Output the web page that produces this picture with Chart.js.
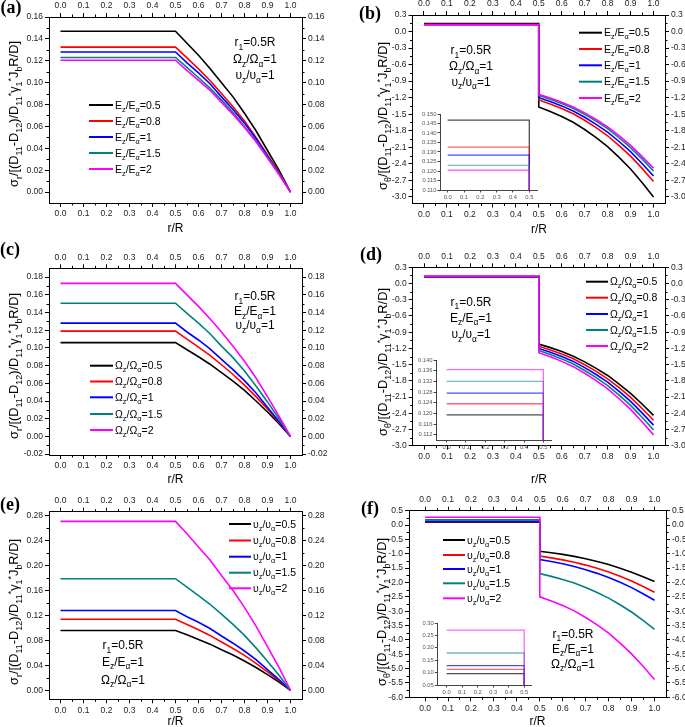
<!DOCTYPE html>
<html>
<head>
<meta charset="UTF-8">
<title>Stress distributions</title>
<script src="https://cdn.jsdelivr.net/npm/chart.js@4.4.0/dist/chart.umd.min.js"></script>
<style>
  html, body { margin: 0; padding: 0; background: #fff; overflow: hidden; }
  body { width: 685px; height: 727px; position: relative; }
  canvas { position: absolute; }
</style>
</head>
<body>
<canvas id="pa"></canvas>
<canvas id="pb"></canvas>
<canvas id="pc"></canvas>
<canvas id="pd"></canvas>
<canvas id="pe"></canvas>
<canvas id="pf"></canvas>
<canvas id="ib"></canvas>
<canvas id="id"></canvas>
<canvas id="if"></canvas>
<script>
// r/R sample points: inner plateau and outer ring
const rInner = [0.0, 0.5];
const rOuter = [0.5, 0.55, 0.6, 0.65, 0.7, 0.75, 0.8, 0.85, 0.9, 0.95, 1.0];

// tick labels
const xTicks = [0.0, 0.1, 0.2, 0.3, 0.4, 0.5, 0.6, 0.7, 0.8, 0.9, 1.0];
const insetXTicks = [0.0, 0.1, 0.2, 0.3, 0.4, 0.5];
const yTicksA = [0.00, 0.02, 0.04, 0.06, 0.08, 0.10, 0.12, 0.14, 0.16];
const yTicksB = [-3.0, -2.7, -2.4, -2.1, -1.8, -1.5, -1.2, -0.9, -0.6, -0.3, 0.0, 0.3];
const yTicksC = [-0.02, 0.00, 0.02, 0.04, 0.06, 0.08, 0.10, 0.12, 0.14, 0.16, 0.18];
const yTicksD = [-3.0, -2.7, -2.4, -2.1, -1.8, -1.5, -1.2, -0.9, -0.6, -0.3, 0.0, 0.3];
const yTicksE = [0.00, 0.04, 0.08, 0.12, 0.16, 0.20, 0.24, 0.28];
const yTicksF = [-6.0, -5.5, -5.0, -4.5, -4.0, -3.5, -3.0, -2.5, -2.0, -1.5, -1.0, -0.5, 0.0, 0.5];
const insetYTicksB = [0.110, 0.115, 0.120, 0.125, 0.130, 0.135, 0.140, 0.145, 0.150];
const insetYTicksD = [0.112, 0.116, 0.120, 0.124, 0.128, 0.132, 0.136, 0.140];
const insetYTicksF = [0.05, 0.10, 0.15, 0.20, 0.25, 0.30];

// series names
const labelsE = ['E_{z}/E_{α}=0.5', 'E_{z}/E_{α}=0.8', 'E_{z}/E_{α}=1', 'E_{z}/E_{α}=1.5', 'E_{z}/E_{α}=2'];
const labelsOmega = ['Ω_{z}/Ω_{α}=0.5', 'Ω_{z}/Ω_{α}=0.8', 'Ω_{z}/Ω_{α}=1', 'Ω_{z}/Ω_{α}=1.5', 'Ω_{z}/Ω_{α}=2'];
const labelsNu = ['υ_{z}/υ_{α}=0.5', 'υ_{z}/υ_{α}=0.8', 'υ_{z}/υ_{α}=1', 'υ_{z}/υ_{α}=1.5', 'υ_{z}/υ_{α}=2'];

// (a) sigma_r, varying E
const plateauA = [0.147, 0.1325, 0.128, 0.123, 0.1205];
const outerA = [
  [0.147, 0.136, 0.125, 0.113, 0.100, 0.087, 0.072, 0.056, 0.038, 0.020, 0],
  [0.1325, 0.1226, 0.1126, 0.102, 0.090, 0.078, 0.065, 0.050, 0.034, 0.018, 0],
  [0.128, 0.118, 0.109, 0.099, 0.087, 0.0755, 0.063, 0.049, 0.033, 0.017, 0],
  [0.123, 0.114, 0.1045, 0.095, 0.084, 0.0726, 0.060, 0.047, 0.032, 0.0166, 0],
  [0.1205, 0.111, 0.102, 0.093, 0.082, 0.071, 0.059, 0.046, 0.031, 0.016, 0]
];
// (b) sigma_theta, varying E
const plateauB = [0.1468, 0.1326, 0.1284, 0.123, 0.1204];
const outerB = [
  [-1.37, -1.452, -1.541, -1.647, -1.778, -1.924, -2.087, -2.283, -2.495, -2.739, -3.0],
  [-1.24, -1.314, -1.395, -1.492, -1.61, -1.743, -1.891, -2.069, -2.261, -2.483, -2.72],
  [-1.2, -1.271, -1.349, -1.441, -1.555, -1.683, -1.825, -1.995, -2.18, -2.393, -2.62],
  [-1.16, -1.229, -1.304, -1.393, -1.503, -1.626, -1.763, -1.927, -2.105, -2.311, -2.53],
  [-1.14, -1.207, -1.281, -1.368, -1.475, -1.596, -1.73, -1.89, -2.065, -2.266, -2.48]
];
// (c) sigma_r, varying Omega
const plateauC = [0.106, 0.119, 0.128, 0.1505, 0.173];
const outerC = [
  [0.106, 0.098, 0.090, 0.0816, 0.072, 0.0625, 0.052, 0.040, 0.0276, 0.0143, 0],
  [0.119, 0.110, 0.101, 0.0916, 0.081, 0.070, 0.058, 0.045, 0.031, 0.016, 0],
  [0.128, 0.118, 0.109, 0.099, 0.087, 0.0755, 0.063, 0.049, 0.033, 0.017, 0],
  [0.1505, 0.139, 0.128, 0.116, 0.102, 0.089, 0.074, 0.057, 0.039, 0.020, 0],
  [0.173, 0.160, 0.147, 0.133, 0.118, 0.102, 0.085, 0.066, 0.045, 0.023, 0]
];
// (d) sigma_theta, varying Omega
const plateauD = [0.1194, 0.1236, 0.1276, 0.132, 0.1364];
const outerD = [
  [-1.12, -1.186, -1.259, -1.344, -1.45, -1.569, -1.701, -1.859, -2.031, -2.229, -2.44],
  [-1.16, -1.229, -1.304, -1.393, -1.503, -1.626, -1.763, -1.927, -2.105, -2.311, -2.53],
  [-1.2, -1.271, -1.349, -1.441, -1.555, -1.683, -1.825, -1.995, -2.18, -2.393, -2.62],
  [-1.24, -1.314, -1.394, -1.49, -1.608, -1.74, -1.887, -2.063, -2.254, -2.475, -2.71],
  [-1.28, -1.356, -1.44, -1.538, -1.66, -1.797, -1.949, -2.131, -2.329, -2.557, -2.8]
];
// (e) sigma_r, varying nu
const plateauE = [0.096, 0.114, 0.128, 0.179, 0.271];
const outerE = [
  [0.096, 0.089, 0.0816, 0.074, 0.065, 0.0566, 0.047, 0.0365, 0.025, 0.013, 0],
  [0.114, 0.1055, 0.097, 0.088, 0.0775, 0.067, 0.056, 0.043, 0.0296, 0.0154, 0],
  [0.128, 0.118, 0.109, 0.099, 0.087, 0.0755, 0.063, 0.049, 0.033, 0.017, 0],
  [0.179, 0.1655, 0.152, 0.138, 0.122, 0.1056, 0.088, 0.068, 0.0465, 0.024, 0],
  [0.271, 0.251, 0.230, 0.209, 0.184, 0.160, 0.133, 0.103, 0.070, 0.0366, 0]
];
// (f) sigma_theta, varying nu
const plateauF = [0.096, 0.113, 0.128, 0.179, 0.271];
const outerF = [
  [-0.91, -0.963, -1.021, -1.09, -1.175, -1.27, -1.376, -1.504, -1.641, -1.8, -1.97],
  [-1.08, -1.143, -1.212, -1.294, -1.395, -1.508, -1.634, -1.786, -1.949, -2.138, -2.34],
  [-1.2, -1.271, -1.349, -1.441, -1.555, -1.683, -1.825, -1.995, -2.18, -2.393, -2.62],
  [-1.69, -1.787, -1.894, -2.02, -2.175, -2.35, -2.544, -2.776, -3.029, -3.32, -3.63],
  [-2.5, -2.644, -2.802, -2.99, -3.22, -3.479, -3.767, -4.113, -4.487, -4.919, -5.38]
];

const seriesColors = ['#000000', '#ff0000', '#0000ff', '#008080', '#ff00ff'];
const insetColors = ['rgba(0,0,0,0.7)', 'rgba(255,0,0,0.6)', 'rgba(0,0,255,0.7)', 'rgba(0,128,128,0.55)', 'rgba(255,0,255,0.6)'];
const FONT = '"Liberation Sans", Arial, sans-serif';
const yTitleR = 'σ_{r}/[(D_{11}-D_{12})/D_{11}^{*}γ_{1}^{*}J_{b}R/D]';
const yTitleT = 'σ_{θ}/[(D_{11}-D_{12})/D_{11}^{*}γ_{1}^{*}J_{b}R/D]';

function pts(p, outer) {
  return [{x: rInner[0], y: p}, {x: rInner[1], y: p}].concat(rOuter.map((r, i) => ({x: r, y: outer[i]})));
}

function makeSets(plateaus, outers, names, inset) {
  return plateaus.map((p, i) => ({
    label: names[i],
    data: pts(p, outers[i]),
    borderColor: inset ? insetColors[i] : seriesColors[i],
    borderWidth: inset ? 1.3 : 1.6,
    pointRadius: 0,
    tension: 0,
    fill: false,
    order: 4 - i
  }));
}

// rich text with _{sub} and ^{sup}
function parseRich(s) {
  const out = [];
  const re = /([_^])\{([^}]*)\}|([^_^]+)/g;
  let m;
  while ((m = re.exec(s))) {
    if (m[3] !== undefined) out.push([m[3], 0]);
    else out.push([m[2], m[1] === '_' ? 1 : -1]);
  }
  return out;
}
function drawRich(ctx, s, x, y, size, align) {
  const parts = parseRich(s);
  const fontOf = k => (k ? size * 0.7 : size) + 'px ' + FONT;
  let w = 0;
  parts.forEach(([t, k]) => { ctx.font = fontOf(k); w += ctx.measureText(t).width; });
  let cx = align === 'center' ? x - w / 2 : x;
  const base = y + size * 0.35;
  ctx.textAlign = 'left';
  ctx.textBaseline = 'alphabetic';
  parts.forEach(([t, k]) => {
    ctx.font = fontOf(k);
    const dy = k === 1 ? size * 0.28 : (k === -1 ? -size * 0.38 : 0);
    ctx.fillText(t, cx, base + dy);
    cx += ctx.measureText(t).width;
  });
}

const decorations = {};

const decor = {
  id: 'decor',
  afterDraw(chart) {
    const d = decorations[chart.canvas.id];
    if (!d) return;
    const ctx = chart.ctx;
    const ox = parseFloat(chart.canvas.style.left), oy = parseFloat(chart.canvas.style.top);
    ctx.save();
    ctx.fillStyle = '#000';
    ctx.strokeStyle = '#000';
    if (d.minor) {
      ctx.lineWidth = 1;
      Object.values(chart.scales).forEach(sc => {
        const t = sc.ticks;
        for (let i = 0; i < t.length - 1; i++) {
          const p = Math.round(sc.getPixelForValue((t[i].value + t[i + 1].value) / 2)) + 0.5;
          ctx.beginPath();
          if (sc.position === 'bottom') { ctx.moveTo(p, sc.top); ctx.lineTo(p, sc.top + 2.5); }
          else if (sc.position === 'top') { ctx.moveTo(p, sc.bottom); ctx.lineTo(p, sc.bottom - 2.5); }
          else if (sc.position === 'left') { ctx.moveTo(sc.right, p); ctx.lineTo(sc.right - 2.5, p); }
          else { ctx.moveTo(sc.left, p); ctx.lineTo(sc.left + 2.5, p); }
          ctx.stroke();
        }
      });
    }
    if (d.label) {
      ctx.font = 'bold 18px "Liberation Serif", "Times New Roman", serif';
      ctx.textAlign = 'center';
      ctx.textBaseline = 'middle';
      ctx.fillText(d.label, d.labelPos[0] - ox, d.labelPos[1] - oy);
    }
    if (d.xTitle) {
      ctx.font = '12px ' + FONT;
      ctx.textAlign = 'center';
      ctx.textBaseline = 'middle';
      ctx.fillText('r/R', d.xTitle[0] - ox, d.xTitle[1] - oy);
    }
    if (d.yTitle) {
      ctx.save();
      ctx.translate(d.yTitlePos[0] - ox, d.yTitlePos[1] - oy);
      ctx.rotate(-Math.PI / 2);
      drawRich(ctx, d.yTitle, 0, 0, 12.8, 'center');
      ctx.restore();
    }
    if (d.legend) {
      const lg = d.legend;
      lg.rows.forEach((yy, i) => {
        ctx.strokeStyle = seriesColors[i];
        ctx.lineWidth = 2;
        ctx.beginPath();
        ctx.moveTo(lg.x0 - ox, yy - oy);
        ctx.lineTo(lg.x1 - ox, yy - oy);
        ctx.stroke();
        ctx.fillStyle = '#000';
        drawRich(ctx, lg.names[i], lg.tx - ox, yy - oy, 10.5, 'left');
      });
    }
    if (d.notes) {
      d.notes.rows.forEach((yy, i) => drawRich(ctx, d.notes.lines[i], d.notes.x - ox, yy - oy, 12, 'center'));
    }
    ctx.restore();
  }
};

function axis(pos, min, max, ticks, dec, size, inset) {
  return {
    type: 'linear',
    axis: (pos === 'left' || pos === 'right') ? 'y' : 'x',
    position: pos,
    min: min,
    max: max,
    afterBuildTicks: ax => { ax.ticks = ticks.map(v => ({value: v})); },
    afterFit: ax => {
      if (pos === 'left' || pos === 'right') ax.width = size; else ax.height = size;
    },
    grid: {drawOnChartArea: false, drawTicks: true, tickLength: inset ? 2.5 : 4, tickColor: inset ? '#444' : '#000', tickWidth: 1},
    border: {display: true, color: inset ? '#444' : '#000', width: 1},
    ticks: {
      font: {family: FONT, size: inset ? 5.8 : 8.5},
      color: inset ? '#555' : '#222',
      padding: inset ? 1 : 2,
      maxRotation: 0, minRotation: 0, autoSkip: false,
      callback: v => v.toFixed(dec)
    }
  };
}

function makeChart(id, box, area, cfg) {
  const cv = document.getElementById(id);
  cv.width = box[2];
  cv.height = box[3];
  cv.style.left = box[0] + 'px';
  cv.style.top = box[1] + 'px';
  const L = area[0] - box[0], T = area[1] - box[1];
  const R = box[0] + box[2] - area[2], B = box[1] + box[3] - area[3];
  const inset = !!cfg.inset;
  const scales = {
    x: axis('bottom', cfg.xMin, cfg.xMax, cfg.xTicks, 1, B, inset),
    y: axis('left', cfg.yMin, cfg.yMax, cfg.yTicks, cfg.yDec, L, inset)
  };
  if (!inset) {
    scales.x2 = axis('top', cfg.xMin, cfg.xMax, cfg.xTicks, 1, T, false);
    scales.y2 = axis('right', cfg.yMin, cfg.yMax, cfg.yTicks, cfg.yDec, R, false);
  }
  return new Chart(cv, {
    type: 'line',
    data: {datasets: cfg.datasets},
    options: {
      responsive: false,
      animation: false,
      devicePixelRatio: 1,
      events: [],
      layout: {padding: inset ? {top: T, right: R, left: 0, bottom: 0} : 0},
      scales: scales,
      plugins: {legend: {display: false}, tooltip: {enabled: false}}
    },
    plugins: [decor]
  });
}

decorations.pa = {
  minor: true, label: '(a)', labelPos: [11, 8], xTitle: [175.5, 229],
  yTitle: yTitleR, yTitlePos: [14, 114],
  legend: {x0: 89, x1: 113, tx: 115, rows: [105, 121, 137, 153, 169], names: labelsE},
  notes: {x: 255, rows: [42, 59, 75], lines: ['r_{1}=0.5R', 'Ω_{z}/Ω_{α}=1', 'υ_{z}/υ_{α}=1']}
};
decorations.pb = {
  minor: true, label: '(b)', labelPos: [370, 14], xTitle: [539, 229.5],
  yTitle: yTitleT, yTitlePos: [383, 116],
  legend: {x0: 579, x1: 602, tx: 604, rows: [32.7, 49, 65.3, 81.7, 98], names: labelsE},
  notes: {x: 471, rows: [50, 66, 81.7], lines: ['r_{1}=0.5R', 'Ω_{z}/Ω_{α}=1', 'υ_{z}/υ_{α}=1']}
};
decorations.pc = {
  minor: true, label: '(c)', labelPos: [10, 250], xTitle: [175.5, 480],
  yTitle: yTitleR, yTitlePos: [14, 366],
  legend: {x0: 90, x1: 113, tx: 115, rows: [365.7, 381.5, 397.3, 414, 430], names: labelsOmega},
  notes: {x: 255, rows: [296, 311, 325], lines: ['r_{1}=0.5R', 'E_{z}/E_{α}=1', 'υ_{z}/υ_{α}=1']}
};
decorations.pd = {
  minor: true, label: '(d)', labelPos: [371, 255], xTitle: [539, 480],
  yTitle: yTitleT, yTitlePos: [383, 362],
  legend: {x0: 586, x1: 608, tx: 610, rows: [281.7, 297.7, 314, 330, 346], names: labelsOmega},
  notes: {x: 471, rows: [301.7, 317.7, 334], lines: ['r_{1}=0.5R', 'E_{z}/E_{α}=1', 'υ_{z}/υ_{α}=1']}
};
decorations.pe = {
  minor: true, label: '(e)', labelPos: [10, 505], xTitle: [175.5, 722],
  yTitle: yTitleR, yTitlePos: [14, 612],
  legend: {x0: 229, x1: 251, tx: 253, rows: [524, 540.5, 556.7, 572.7, 588.3], names: labelsNu},
  notes: {x: 123, rows: [645, 661.7, 679.3], lines: ['r_{1}=0.5R', 'E_{z}/E_{α}=1', 'Ω_{z}/Ω_{α}=1']}
};
decorations.pf = {
  minor: true, label: '(f)', labelPos: [370, 509], xTitle: [537.5, 722],
  yTitle: yTitleT, yTitlePos: [382, 612],
  legend: {x0: 443, x1: 465, tx: 467, rows: [540, 555, 569, 583.3, 598.3], names: labelsNu},
  notes: {x: 573, rows: [633.3, 648.3, 663.3], lines: ['r_{1}=0.5R', 'E_{z}/E_{α}=1', 'Ω_{z}/Ω_{α}=1']}
};

makeChart('pa', [0, 0, 340, 240], [49, 17, 302, 203],
  {xMin: -0.05, xMax: 1.05, xTicks: xTicks, yMin: -0.01, yMax: 0.16, yTicks: yTicksA, yDec: 2,
   datasets: makeSets(plateauA, outerA, labelsE)});
makeChart('pb', [340, 0, 360, 240], [412.5, 15, 665, 203.5],
  {xMin: -0.05, xMax: 1.05, xTicks: xTicks, yMin: -3.12, yMax: 0.3, yTicks: yTicksB, yDec: 1,
   datasets: makeSets(plateauB, outerB, labelsE)});
makeChart('pc', [0, 235, 340, 255], [49, 268.3, 302, 455],
  {xMin: -0.05, xMax: 1.05, xTicks: xTicks, yMin: -0.021, yMax: 0.19, yTicks: yTicksC, yDec: 2,
   datasets: makeSets(plateauC, outerC, labelsOmega)});
makeChart('pd', [340, 235, 360, 255], [412.7, 267.3, 665, 445.7],
  {xMin: -0.05, xMax: 1.05, xTicks: xTicks, yMin: -3.0, yMax: 0.3, yTicks: yTicksD, yDec: 1,
   datasets: makeSets(plateauD, outerD, labelsOmega)});
makeChart('pe', [0, 490, 340, 237], [49, 511.7, 302, 699.3],
  {xMin: -0.05, xMax: 1.05, xTicks: xTicks, yMin: -0.0145, yMax: 0.2865, yTicks: yTicksE, yDec: 2,
   datasets: makeSets(plateauE, outerE, labelsNu)});
makeChart('pf', [340, 490, 360, 237], [409, 510.7, 666, 697.3],
  {xMin: -0.07, xMax: 1.05, xTicks: xTicks, yMin: -6.0, yMax: 0.5, yTicks: yTicksF, yDec: 1,
   datasets: makeSets(plateauF, outerF, labelsNu)});

// insets: zoom on the inner plateau
makeChart('ib', [417, 108, 125, 94], [440, 114, 537, 190],
  {inset: true, xMin: -0.047, xMax: 0.547, xTicks: insetXTicks, yMin: 0.110, yMax: 0.150, yTicks: insetYTicksB, yDec: 3,
   datasets: makeSets(plateauB, outerB, labelsE, true)});
makeChart('id', [413, 354, 143, 98], [436, 360, 551.7, 440],
  {inset: true, xMin: -0.055, xMax: 0.543, xTicks: insetXTicks, yMin: 0.110, yMax: 0.140, yTicks: insetYTicksD, yDec: 3,
   datasets: makeSets(plateauD, outerD, labelsOmega, true)});
makeChart('if', [414, 617, 122, 80], [437.3, 623, 531.7, 685],
  {inset: true, xMin: -0.06, xMax: 0.548, xTicks: insetXTicks, yMin: 0.05, yMax: 0.30, yTicks: insetYTicksF, yDec: 2,
   datasets: makeSets(plateauF, outerF, labelsNu, true)});
</script>
</body>
</html>
